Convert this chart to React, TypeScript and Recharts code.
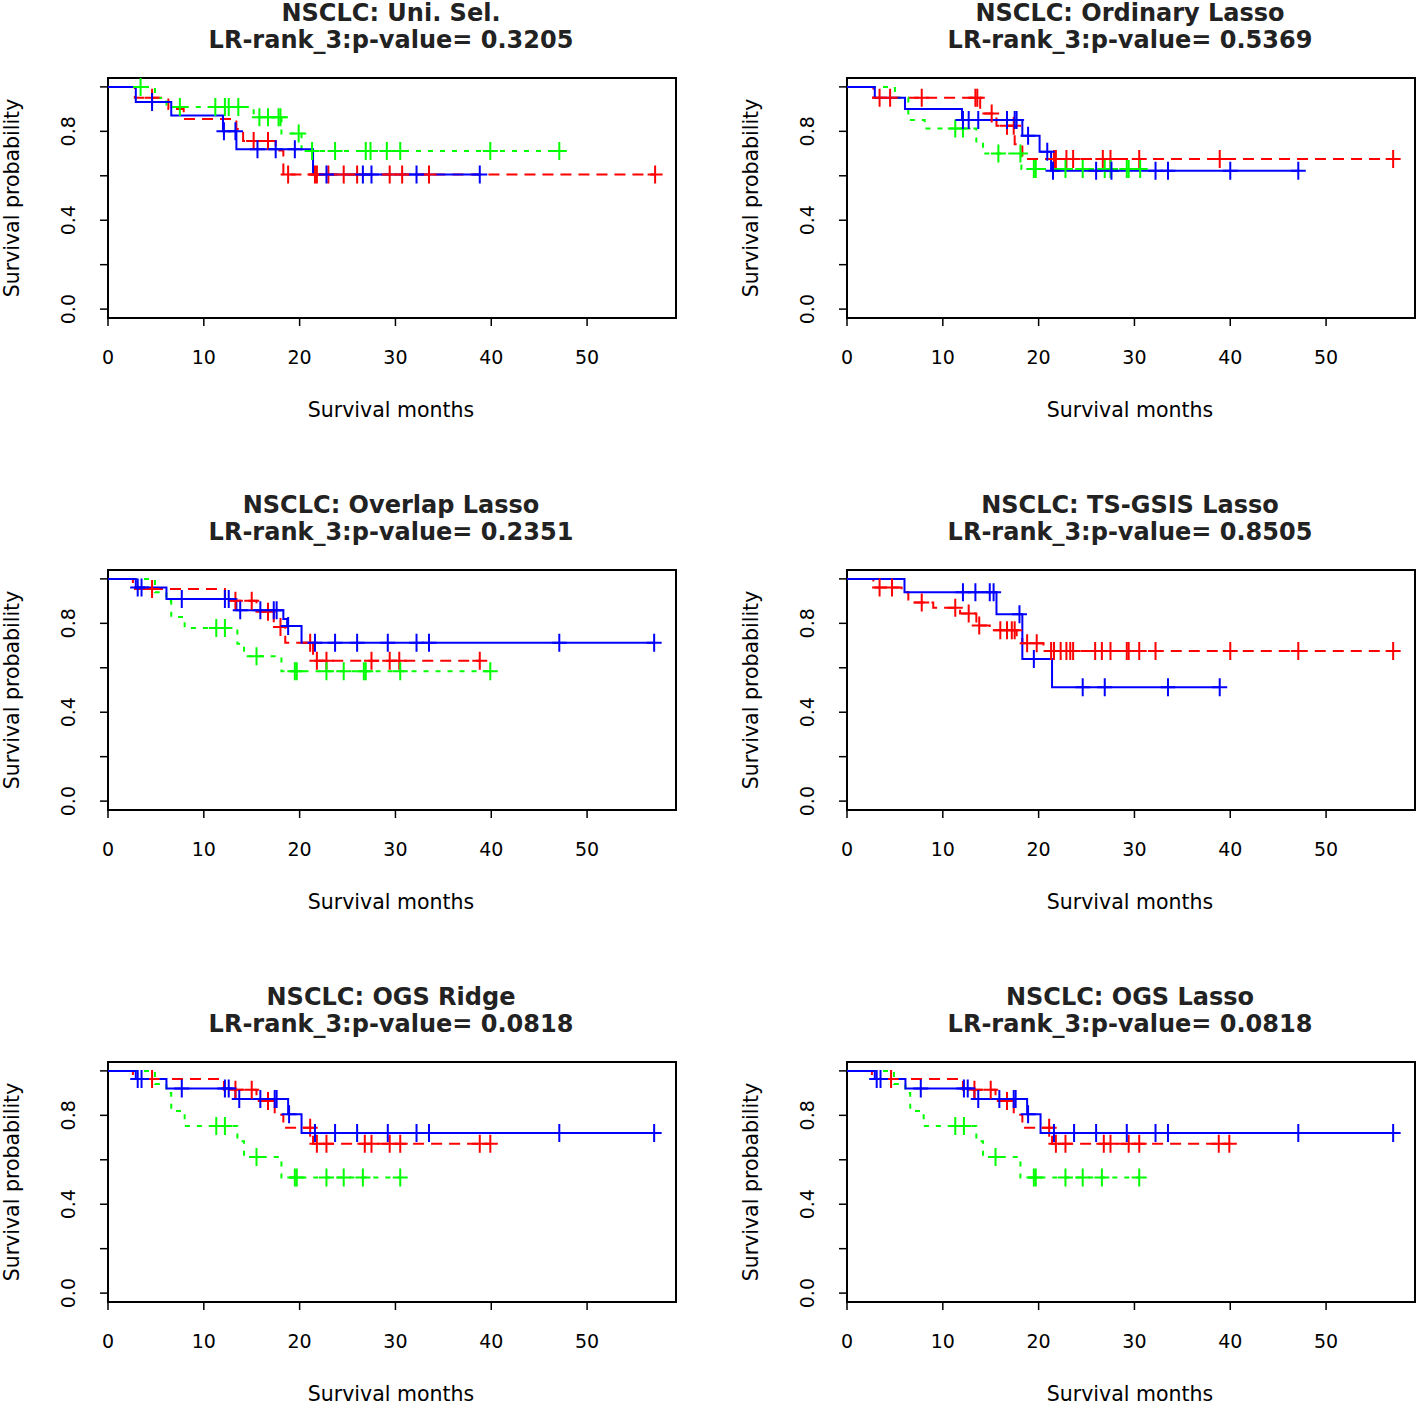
import React from "react";
import { ComposedChart, Line, Scatter, XAxis, YAxis, ReferenceArea } from "recharts";

type Step = [number, number];

// axis ticks
const xTicks = [0, 10, 20, 30, 40, 50];
const yTicks = [0, 0.2, 0.4, 0.6, 0.8, 1.0];
const yLabelTicks = [0, 0.4, 0.8];

// NSCLC: Uni. Sel.
const uniRedSteps: Step[] = [[2.8, 0.951], [6.3, 0.901], [7.9, 0.856], [13.4, 0.81], [14.1, 0.757], [17.5, 0.714], [18.3, 0.606]];
const uniRedCens = [4.6, 15.2, 16.7, 18.8, 21.6, 21.8, 23.0, 24.6, 26.0, 29.4, 30.7, 33.5, 57.1];
const uniGreenSteps: Step[] = [[4.9, 0.95], [6.1, 0.909], [15.2, 0.863], [18.1, 0.79], [20.2, 0.712]];
const uniGreenCens = [3.4, 7.5, 11.2, 12.2, 12.6, 13.6, 15.8, 16.7, 17.8, 18.0, 19.9, 21.3, 23.7, 26.9, 27.4, 29.1, 30.5, 39.9, 47.1];
const uniBlueSteps: Step[] = [[2.9, 0.932], [6.6, 0.871], [12.0, 0.8], [13.4, 0.719], [21.4, 0.606]];
const uniBlueCens = [4.6, 12.1, 13.3, 15.6, 17.5, 19.5, 22.8, 26.6, 27.5, 32.2, 38.8];

// NSCLC: Ordinary Lasso
const ordRedSteps: Step[] = [[2.75, 0.951], [13.9, 0.88], [15.6, 0.825], [17.5, 0.742], [18.3, 0.676]];
const ordRedCens = [3.4, 4.5, 7.8, 13.4, 13.6, 15.1, 16.7, 17.4, 21.6, 21.8, 22.9, 23.6, 26.7, 27.5, 30.5, 38.9, 57.0];
const ordGreenSteps: Step[] = [[5.0, 0.951], [6.4, 0.851], [8.1, 0.813], [13.5, 0.749], [14.2, 0.7], [18.2, 0.631]];
const ordGreenCens = [11.3, 12.1, 15.8, 18.1, 19.5, 19.7, 22.8, 24.6, 26.9, 27.5, 29.2, 29.4, 30.6];
const ordBlueSteps: Step[] = [[2.9, 0.951], [6.05, 0.9], [12.0, 0.851], [18.3, 0.78], [20.1, 0.708], [21.3, 0.623]];
const ordBlueCens = [12.1, 12.7, 13.7, 16.7, 17.5, 17.7, 18.9, 20.9, 21.5, 26.0, 27.6, 32.2, 33.5, 40.0, 47.1];

// NSCLC: Overlap Lasso
const ovlRedSteps: Step[] = [[2.6, 0.955], [12.2, 0.902], [15.5, 0.852], [17.3, 0.784], [18.5, 0.713], [21.4, 0.632]];
const ovlRedCens = [4.6, 13.3, 15.0, 16.7, 18.0, 21.1, 21.8, 22.8, 27.5, 29.4, 30.4, 38.8];
const ovlGreenSteps: Step[] = [[4.9, 0.94], [6.1, 0.9], [6.6, 0.829], [8.0, 0.779], [13.5, 0.708], [14.2, 0.652], [18.1, 0.584]];
const ovlGreenCens = [11.3, 12.2, 15.5, 19.5, 19.7, 22.8, 24.6, 26.7, 26.9, 30.5, 39.9];
const ovlBlueSteps: Step[] = [[2.9, 0.961], [6.1, 0.909], [13.4, 0.859], [18.3, 0.82], [18.7, 0.788], [20.2, 0.713]];
const ovlBlueCens = [3.1, 3.5, 7.7, 12.2, 12.6, 13.8, 15.9, 17.3, 17.6, 18.8, 21.6, 23.7, 26.0, 29.2, 32.2, 33.5, 47.1, 57.0];

// NSCLC: TS-GSIS Lasso
const tsRedSteps: Step[] = [[2.75, 0.961], [5.7, 0.94], [6.4, 0.894], [9.0, 0.87], [11.8, 0.844], [13.5, 0.79], [14.9, 0.769], [17.7, 0.73], [18.3, 0.71], [20.5, 0.675]];
const tsRedCens = [3.4, 4.7, 7.8, 11.3, 12.7, 13.8, 16.0, 16.7, 17.2, 17.5, 18.8, 19.8, 21.3, 21.6, 22.3, 22.9, 23.3, 23.6, 25.9, 26.6, 27.5, 29.2, 29.4, 30.5, 32.2, 40.0, 47.1, 57.0];
const tsBlueSteps: Step[] = [[6.0, 0.94], [15.6, 0.841], [18.3, 0.64], [21.4, 0.512]];
const tsBlueCens = [12.1, 13.4, 14.9, 15.3, 18.0, 19.5, 24.6, 26.9, 33.5, 38.9];

// NSCLC: OGS Ridge / OGS Lasso
const ogsRedSteps: Step[] = [[2.6, 0.964], [12.1, 0.915], [15.5, 0.864], [17.4, 0.803], [18.3, 0.744], [21.4, 0.672]];
const ogsRedCens = [4.6, 13.3, 15.0, 16.7, 21.1, 21.8, 22.8, 26.8, 27.5, 29.4, 30.5, 38.8, 39.9];
const ogsGreenSteps: Step[] = [[4.9, 0.941], [6.1, 0.9], [6.6, 0.82], [8.0, 0.752], [13.5, 0.683], [14.2, 0.612], [18.1, 0.52]];
const ogsGreenCens = [11.3, 12.2, 15.5, 19.5, 19.7, 22.8, 24.6, 26.6, 30.5];
const ogsBlueSteps: Step[] = [[2.9, 0.964], [6.1, 0.921], [13.3, 0.873], [18.8, 0.805], [20.2, 0.721]];
const ogsBlueCens = [3.1, 3.5, 7.7, 12.2, 12.6, 13.7, 15.9, 17.4, 17.6, 18.9, 21.6, 23.7, 26.0, 29.2, 32.2, 33.5, 47.1, 57.0];

const RED = "#ff0000";
const GREEN = "#00ff00";
const BLUE = "#0000ff";
const FONT = "'DejaVu Sans', Verdana, sans-serif";

const X_MAX = 59.28;
const Y_MIN = -0.04;
const Y_MAX = 1.04;

const survAt = (steps: Step[], t: number) => {
  let s = 1;
  for (const [tt, v] of steps) if (tt <= t) s = v;
  return s;
};

const curve = (steps: Step[], cens: number[]) => {
  const end = Math.max(...cens, ...steps.map((d) => d[0]));
  const pts = [{ t: 0, s: 1 }, ...steps.map(([t, s]) => ({ t, s }))];
  pts.push({ t: end, s: pts[pts.length - 1].s });
  return pts;
};

const marks = (steps: Step[], cens: number[]) => cens.map((t) => ({ t, s: survAt(steps, t) }));

const group = (color: string, dash: string | undefined, steps: Step[], cens: number[]) => ({ color, dash, steps, cens });

const panels = [
  { title: "NSCLC: Uni. Sel.", pval: "0.3205", groups: [group(RED, "11 7", uniRedSteps, uniRedCens), group(GREEN, "5 7", uniGreenSteps, uniGreenCens), group(BLUE, undefined, uniBlueSteps, uniBlueCens)] },
  { title: "NSCLC: Ordinary Lasso", pval: "0.5369", groups: [group(RED, "11 7", ordRedSteps, ordRedCens), group(GREEN, "5 7", ordGreenSteps, ordGreenCens), group(BLUE, undefined, ordBlueSteps, ordBlueCens)] },
  { title: "NSCLC: Overlap Lasso", pval: "0.2351", groups: [group(RED, "11 7", ovlRedSteps, ovlRedCens), group(GREEN, "5 7", ovlGreenSteps, ovlGreenCens), group(BLUE, undefined, ovlBlueSteps, ovlBlueCens)] },
  { title: "NSCLC: TS-GSIS Lasso", pval: "0.8505", groups: [group(RED, "11 7", tsRedSteps, tsRedCens), group(BLUE, undefined, tsBlueSteps, tsBlueCens)] },
  { title: "NSCLC: OGS Ridge", pval: "0.0818", groups: [group(RED, "11 7", ogsRedSteps, ogsRedCens), group(GREEN, "5 7", ogsGreenSteps, ogsGreenCens), group(BLUE, undefined, ogsBlueSteps, ogsBlueCens)] },
  { title: "NSCLC: OGS Lasso", pval: "0.0818", groups: [group(RED, "11 7", ogsRedSteps, ogsRedCens), group(GREEN, "5 7", ogsGreenSteps, ogsGreenCens), group(BLUE, undefined, ogsBlueSteps, ogsBlueCens)] },
];

const plusShape = (color: string) => (props: any) => {
  const { cx, cy } = props;
  if (cx == null || cy == null) return <g />;
  return <path d={`M${cx - 7.5},${cy}h15M${cx},${cy - 9}v18`} stroke={color} strokeWidth={2} fill="none" />;
};

const YTick = (props: any) => {
  const { y, payload } = props;
  if (!yLabelTicks.some((v) => Math.abs(v - payload.value) < 1e-6)) return <g />;
  return (
    <text x={75} y={y} transform={`rotate(-90, 75, ${y})`} textAnchor="middle" fontSize={19} fontFamily={FONT} fill="#000">
      {payload.value.toFixed(1)}
    </text>
  );
};

const PANEL_W = 709;
const PANEL_H = 492;
const PLOT_CX = 391;

const Panel = ({ panel, left, top }: { panel: (typeof panels)[number]; left: number; top: number }) => (
  <div style={{ position: "absolute", left, top, width: PANEL_W, height: PANEL_H }}>
    <ComposedChart width={PANEL_W} height={PANEL_H} margin={{ top: 78, right: 33, bottom: 134, left: 0 }}>
      <XAxis
        type="number"
        dataKey="t"
        domain={[0, X_MAX]}
        ticks={xTicks}
        allowDataOverflow
        axisLine={false}
        tickLine={{ stroke: "#000", strokeWidth: 1.5 }}
        tickSize={8}
        tickMargin={25}
        height={40}
        tick={{ fill: "#000", fontSize: 19, fontFamily: FONT }}
      />
      <YAxis
        type="number"
        dataKey="s"
        domain={[Y_MIN, Y_MAX]}
        ticks={yTicks}
        allowDataOverflow
        axisLine={false}
        tickLine={{ stroke: "#000", strokeWidth: 1.5 }}
        tickSize={8}
        width={108}
        tick={<YTick />}
      />
      {panel.groups.map((g, i) => (
        <Line
          key={`l${i}`}
          data={curve(g.steps, g.cens)}
          dataKey="s"
          type="stepAfter"
          stroke={g.color}
          strokeWidth={2}
          strokeDasharray={g.dash}
          dot={false}
          activeDot={false}
          isAnimationActive={false}
        />
      ))}
      {panel.groups.map((g, i) => (
        <Scatter key={`c${i}`} data={marks(g.steps, g.cens)} dataKey="s" shape={plusShape(g.color)} isAnimationActive={false} />
      ))}
      <ReferenceArea x1={0} x2={X_MAX} y1={Y_MIN} y2={Y_MAX} fill="none" stroke="#000" strokeWidth={2} ifOverflow="visible" />
    </ComposedChart>
    <div style={{ position: "absolute", left: PLOT_CX - 300, width: 600, top: 0, textAlign: "center", fontFamily: FONT, fontWeight: "bold", fontSize: 24, lineHeight: "27px", color: "#222" }}>
      <div>{panel.title}</div>
      <div>LR-rank_3:p-value= {panel.pval}</div>
    </div>
    <div style={{ position: "absolute", left: PLOT_CX - 200, width: 400, top: 398, textAlign: "center", fontFamily: FONT, fontSize: 20.5, lineHeight: "24px", color: "#000" }}>
      Survival months
    </div>
    <div style={{ position: "absolute", left: 12 - 150, width: 300, top: 198 - 13, textAlign: "center", fontFamily: FONT, fontSize: 20.5, lineHeight: "26px", color: "#000", transform: "rotate(-90deg)" }}>
      Survival probability
    </div>
  </div>
);

export default function App() {
  return (
    <div style={{ position: "absolute", left: 0, top: 0, width: 1418, height: 1409, overflow: "hidden", background: "#fff" }}>
      {panels.map((p, i) => (
        <Panel key={i} panel={p} left={(i % 2) * 739} top={Math.floor(i / 2) * 492} />
      ))}
    </div>
  );
}
